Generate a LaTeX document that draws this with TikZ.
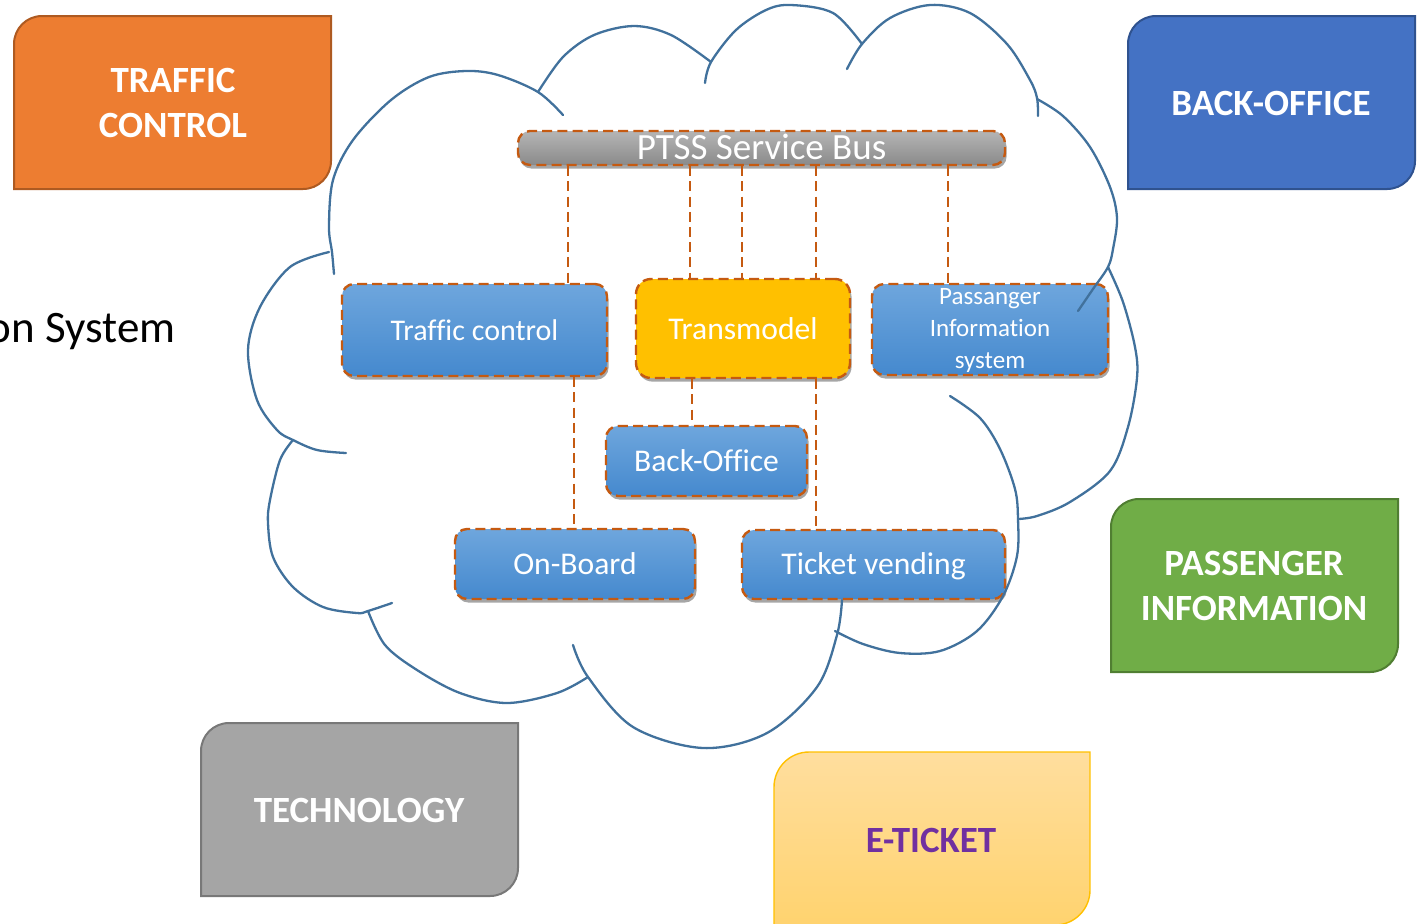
\documentclass[tikz,border=0pt]{standalone}
\usepackage{fontspec}
\setmainfont{Carlito}[Ligatures={NoCommon,NoContextual}]
\usetikzlibrary{shadows}
\definecolor{cloudc}{HTML}{41719C}
\definecolor{brownc}{HTML}{C55A11}
\definecolor{blueT}{HTML}{6EA6DD}
\definecolor{blueB}{HTML}{4589CE}
\definecolor{busT}{HTML}{B5B5B5}
\definecolor{busB}{HTML}{8A8A8A}
\definecolor{tmfill}{HTML}{FFC000}
\definecolor{orfill}{HTML}{ED7D31}
\definecolor{ordraw}{HTML}{AE5A21}
\definecolor{bofill}{HTML}{4472C4}
\definecolor{bodraw}{HTML}{2F528F}
\definecolor{grfill}{HTML}{70AD47}
\definecolor{grdraw}{HTML}{507E32}
\definecolor{tefill}{HTML}{A5A5A5}
\definecolor{tedraw}{HTML}{787878}
\definecolor{etT}{HTML}{FFDE9E}
\definecolor{etB}{HTML}{FFD36F}
\definecolor{etdraw}{HTML}{FFC000}
\definecolor{ettext}{HTML}{7030A0}
\begin{document}
\begin{tikzpicture}[x=0.5pt,y=-0.5pt,
  cloudline/.style={draw=cloudc, line width=1.15pt, line join=round, line cap=round},
  inbox/.style={draw=brownc, line width=1.2pt, dash pattern=on 5pt off 2.6pt,
    rounded corners=6pt, inner sep=0pt, text=white, align=center,
    drop shadow={shadow xshift=0.8pt, shadow yshift=-1.8pt, opacity=0.35, fill=black}},
  bluebox/.style={inbox, top color=blueT, bottom color=blueB, font=\fontsize{15.8}{19}\selectfont},
  conn/.style={draw=brownc, line width=1.2pt, dash pattern=on 5pt off 2.6pt},
  tab/.style={line width=1pt},
  tablabel/.style={font=\fontsize{18.5}{22.5}\selectfont\bfseries, align=center, text=white}
]
\useasboundingbox (0,0) rectangle (1418,923);
\clip (0,0) rectangle (1418,923);

% corner tabs
\draw[tab, fill=orfill, draw=ordraw] (14,189) -- (14,44) .. controls (14,28.5) and (26.5,16) .. (42,16) -- (331,16) -- (331,161) .. controls (331,176.5) and (318.5,189) .. (303,189) -- cycle;
\draw[tab, fill=bofill, draw=bodraw] (1128,189) -- (1128,44) .. controls (1128,28.5) and (1140.5,16) .. (1156,16) -- (1415,16) -- (1415,161) .. controls (1415,176.5) and (1402.5,189) .. (1387,189) -- cycle;
\draw[tab, fill=grfill, draw=grdraw] (1111,672) -- (1111,527) .. controls (1111,511.5) and (1123.5,499) .. (1139,499) -- (1398,499) -- (1398,644) .. controls (1398,659.5) and (1385.5,672) .. (1370,672) -- cycle;
\draw[tab, fill=tefill, draw=tedraw] (201,896) -- (201,751) .. controls (201,735.5) and (213.5,723) .. (229,723) -- (518,723) -- (518,868) .. controls (518,883.5) and (505.5,896) .. (490,896) -- cycle;
\draw[tab, top color=etT, bottom color=etB, draw=etdraw, line width=0.7pt] (774,925) -- (774,787) .. controls (774,767.7) and (789.7,752) .. (809,752) -- (1090,752) -- (1090,890) .. controls (1090,909.3) and (1074.3,925) .. (1055,925) -- cycle;

\node[tablabel] (ltraffic) at (173,103) {TRAFFIC\\CONTROL};
\node[tablabel] (lback) at (1271,103) {BACK-OFFICE};
\node[tablabel] (lpass) at (1254,586) {PASSENGER\\INFORMATION};
\node[tablabel] (ltech) at (359,810) {TECHNOLOGY};
\node[tablabel, text=ettext] (leticket) at (931,840) {E-TICKET};

\node[anchor=base east, inner sep=0pt, font=\fontsize{22.5}{27}\selectfont] (osys) at (176,342) {on System};

% inner boxes
\node[inbox, top color=busT, bottom color=busB, minimum width=243.5pt, minimum height=17pt,
      text height=11.9pt, text depth=0pt, font=\fontsize{18.5}{22}\selectfont] (bus) at (761.5,148) {PTSS Service Bus};
\node[bluebox, minimum width=132.5pt, minimum height=46pt, font=\fontsize{15}{18}\selectfont] (tc) at (474.5,330) {Traffic control};
\node[inbox, fill=tmfill, rounded corners=7.5pt, minimum width=107pt, minimum height=49.5pt, font=\fontsize{15.8}{19}\selectfont] (tm) at (743,328.5) {Transmodel};
\node[bluebox, minimum width=118pt, minimum height=45.5pt, font=\fontsize{12.5}{16}\selectfont, text depth=1.5pt] (pis) at (990,329.5) {Passanger\\Information\\system};
\node[bluebox, minimum width=100.5pt, minimum height=35pt] (bo) at (706.5,461) {Back-Office};
\node[bluebox, minimum width=120pt, minimum height=35pt] (ob) at (575,564) {On-Board};
\node[bluebox, minimum width=131.5pt, minimum height=34.5pt, text height=11pt, text depth=1pt] (tv) at (873.5,564.5) {Ticket vending};

% connectors
\coordinate (c1) at (568,0);
\coordinate (c2) at (690,0);
\coordinate (c3) at (742,0);
\coordinate (c4) at (816,0);
\coordinate (c5) at (948,0);
\coordinate (c6) at (574,0);
\coordinate (c7) at (692,0);
\coordinate (c8) at (816,0);
\draw[conn] (bus.south -| c1) -- (tc.north -| c1);
\draw[conn] (bus.south -| c2) -- (tm.north -| c2);
\draw[conn] (bus.south -| c3) -- (tm.north -| c3);
\draw[conn] (bus.south -| c4) -- (tm.north -| c4);
\draw[conn] (bus.south -| c5) -- (pis.north -| c5);
\draw[conn] (tc.south -| c6) -- (ob.north -| c6);
\draw[conn] (tm.south -| c7) -- (bo.north -| c7);
\draw[conn] (tm.south -| c8) -- (tv.north -| c8);

% cloud
\draw[cloudline] plot[smooth, tension=0.55] coordinates {(334,274) (332,252) (329,227) (333,180) (353,140) (391,100) (429,77) (466,71) (498,75) (538,92) (563,115)};
\draw[cloudline] plot[smooth, tension=0.55] coordinates {(538,92) (563,57) (594,35) (634,26) (671,35) (711,62)};
\draw[cloudline] plot[smooth, tension=0.55] coordinates {(705,83) (711,62) (736,30) (766,10) (791,5) (833,13) (862,44)};
\draw[cloudline] plot[smooth, tension=0.55] coordinates {(847,69) (862,44) (890,18) (930,5) (970,13) (1007,44) (1030,80) (1037,98) (1038,116)};
\draw[cloudline] plot[smooth, tension=0.55] coordinates {(1037,99) (1063,116) (1090,147) (1110,187) (1117,218) (1113,249) (1108,267) (1093,289) (1078,311)};
\draw[cloudline] plot[smooth, tension=0.55] coordinates {(1108,267) (1123,302) (1135,347) (1137,378) (1128,427) (1110,471) (1070,502) (1037,516) (1018,519)};
\draw[cloudline] plot[smooth, tension=0.55] coordinates {(950,396) (980,418) (1000,449) (1015,489) (1018,519) (1017,556) (1003,596) (977,631) (940,651) (900,653) (863,644) (835,631)};
\draw[cloudline] plot[smooth, tension=0.55] coordinates {(842,600) (837,635) (817,687) (767,733) (703,748) (633,727) (588,677) (573,645)};
\draw[cloudline] plot[smooth, tension=0.55] coordinates {(368,611) (385,645) (417,670) (460,693) (507,703) (557,693) (588,677)};
\draw[cloudline] plot[smooth, tension=0.55] coordinates {(293,440) (280,460) (270,500) (268,523) (273,557) (293,587) (323,607) (357,613) (368,611) (392,603)};
\draw[cloudline] plot[smooth, tension=0.55] coordinates {(329,252) (290,267) (260,307) (248,350) (257,400) (277,430) (293,440) (317,450) (346,453)};
\end{tikzpicture}
\end{document}
